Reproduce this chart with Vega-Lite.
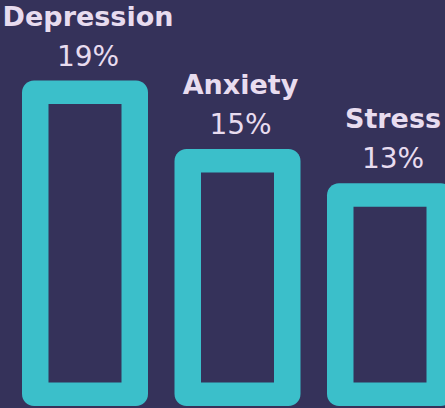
{
  "$schema": "https://vega.github.io/schema/vega-lite/v6.json",
  "width": 445,
  "height": 408,
  "padding": 0,
  "autosize": {"type": "none"},
  "background": "#35325a",
  "config": {"view": {"stroke": null}},
  "data": {"values": [
    {"category": "Depression", "value": 19, "label": "19%"},
    {"category": "Anxiety", "value": 15, "label": "15%"},
    {"category": "Stress", "value": 13, "label": "13%"}
  ]},
  "encoding": {
    "x": {"field": "category", "type": "nominal", "sort": null, "scale": {"type": "point", "range": [85, 390], "padding": 0}, "axis": null},
    "y": {"field": "value", "type": "quantitative", "stack": null, "scale": {"domain": [0, 23.7], "range": [406, 0], "nice": false}, "axis": null}
  },
  "layer": [
    {"mark": {"type": "bar", "width": 126, "color": "#3bbfca", "cornerRadius": 12}, "encoding": {"y2": {"datum": 0}}},
    {"mark": {"type": "bar", "width": 73, "color": "#35325a", "yOffset": 23.5, "y2Offset": -23.5}, "encoding": {"y2": {"datum": 0}}},
    {"mark": {"type": "text", "font": "DejaVu Sans", "fontWeight": "bold", "fontSize": 27, "color": "#e8dcef", "baseline": "middle", "dy": -63, "dx": 3},
     "encoding": {"text": {"field": "category"}}},
    {"mark": {"type": "text", "font": "DejaVu Sans", "fontSize": 28, "color": "#e8dcef", "baseline": "middle", "dy": -23, "dx": 3},
     "encoding": {"text": {"field": "label"}}}
  ]
}
